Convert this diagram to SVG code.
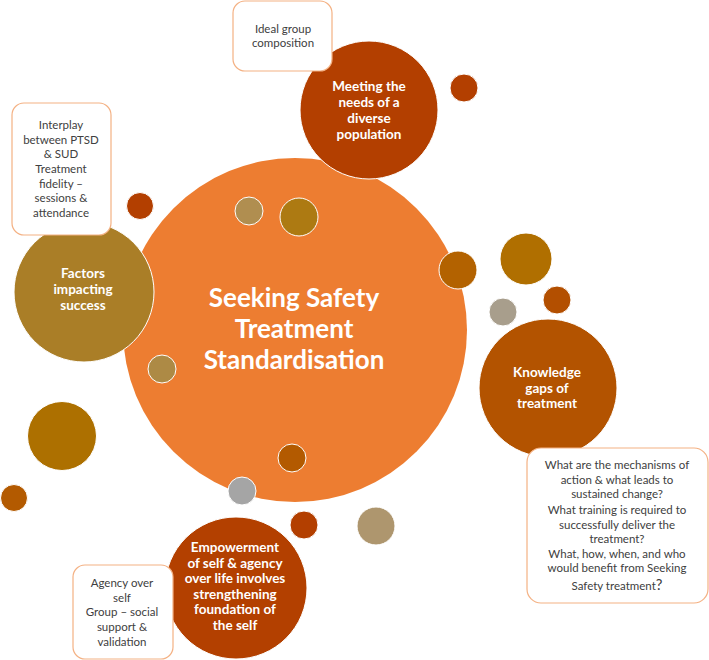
<svg xmlns="http://www.w3.org/2000/svg" width="709" height="660" viewBox="0 0 709 660">
<style>
.big{stroke:#fff;stroke-width:1}
.dot{stroke:#fff;stroke-width:1}
.box{fill:#fff;stroke:#F4B183;stroke-width:1.2}
.ct{font-family:Lato,"Liberation Sans",sans-serif;font-weight:bold;fill:#fff;text-anchor:middle}
.bt{font-family:Lato,"Liberation Sans",sans-serif;fill:#404040;text-anchor:middle;font-size:11.5px}
</style>
<rect width="709" height="660" fill="#fff"/>
<g id="main">
<circle cx="295" cy="330" r="172" fill="#ED7D31"/>
<text class="ct" font-size="26" x="294" y="307">Seeking Safety</text>
<text class="ct" font-size="26" x="294" y="338">Treatment</text>
<text class="ct" font-size="26" x="294" y="369">Standardisation</text>
</g>
<g id="meeting">
<circle class="big" cx="369" cy="110" r="69" fill="#B33F00"/>
<text class="ct" font-size="13.5" x="369" y="91">Meeting the</text>
<text class="ct" font-size="13.5" x="369" y="107">needs of a</text>
<text class="ct" font-size="13.5" x="369" y="123">diverse</text>
<text class="ct" font-size="13.5" x="369" y="139">population</text>
</g>
<g id="factors">
<circle class="big" cx="84" cy="292" r="70" fill="#AA7E27"/>
<text class="ct" font-size="13.5" x="83" y="278">Factors</text>
<text class="ct" font-size="13.5" x="83" y="294">impacting</text>
<text class="ct" font-size="13.5" x="83" y="310">success</text>
</g>
<g id="knowledge">
<circle class="big" cx="548" cy="388" r="69" fill="#B35300"/>
<text class="ct" font-size="13.5" x="547" y="377">Knowledge</text>
<text class="ct" font-size="13.5" x="547" y="393">gaps of</text>
<text class="ct" font-size="13.5" x="547" y="408">treatment</text>
</g>
<g id="empowerment">
<circle class="big" cx="236" cy="588" r="71" fill="#B34000"/>
<text class="ct" font-size="13.5" x="235" y="552">Empowerment</text>
<text class="ct" font-size="13.5" x="235" y="568">of self &amp; agency</text>
<text class="ct" font-size="13.5" x="235" y="583">over life involves</text>
<text class="ct" font-size="13.5" x="235" y="599">strengthening</text>
<text class="ct" font-size="13.5" x="235" y="614">foundation of</text>
<text class="ct" font-size="13.5" x="235" y="630">the self</text>
</g>
<g id="dots">
<circle class="dot" cx="464" cy="88" r="14" fill="#B33F00"/>
<circle class="dot" cx="140" cy="206" r="13.5" fill="#B33F00"/>
<circle class="dot" cx="249" cy="211" r="14" fill="#B08E50"/>
<circle class="dot" cx="299" cy="217" r="19" fill="#AD7A12"/>
<circle class="dot" cx="162" cy="369" r="14" fill="#AD8A45"/>
<circle class="dot" cx="458" cy="270" r="19" fill="#B36200"/>
<circle class="dot" cx="526" cy="259" r="26" fill="#B06F00"/>
<circle class="dot" cx="503" cy="312" r="14" fill="#A89E8C"/>
<circle class="dot" cx="557" cy="300" r="14" fill="#B34F00"/>
<circle class="dot" cx="62" cy="436" r="34.5" fill="#AD7000"/>
<circle class="dot" cx="14" cy="498" r="13.5" fill="#B35A00"/>
<circle class="dot" cx="292" cy="458" r="14" fill="#B35A00"/>
<circle class="dot" cx="242" cy="491" r="14" fill="#A5A5A5"/>
<circle class="dot" cx="304" cy="525" r="14" fill="#B33F00"/>
<circle class="dot" cx="376" cy="526" r="19" fill="#AE966E"/>
</g>
<g id="box-ideal">
<rect class="box" x="233" y="1" width="99" height="70" rx="12"/>
<text class="bt" x="283" y="33">Ideal group</text>
<text class="bt" x="283" y="47">composition</text>
</g>
<g id="box-interplay">
<rect class="box" x="12" y="103" width="99" height="132" rx="12"/>
<text class="bt" x="61" y="129">Interplay</text>
<text class="bt" x="61" y="143.5">between PTSD</text>
<text class="bt" x="61" y="158">&amp; SUD</text>
<text class="bt" x="61" y="173">Treatment</text>
<text class="bt" x="61" y="187.5">fidelity –</text>
<text class="bt" x="61" y="202">sessions &amp;</text>
<text class="bt" x="61" y="217">attendance</text>
</g>
<g id="box-knowledge">
<rect class="box" x="527" y="448" width="181" height="155" rx="14"/>
<text class="bt" x="617" y="469">What are the mechanisms of</text>
<text class="bt" x="617" y="483.5">action &amp; what leads to</text>
<text class="bt" x="617" y="498">sustained change?</text>
<text class="bt" x="617" y="514">What training is required to</text>
<text class="bt" x="617" y="528.5">successfully deliver the</text>
<text class="bt" x="617" y="543">treatment?</text>
<text class="bt" x="617" y="557.5">What, how, when, and who</text>
<text class="bt" x="617" y="572">would benefit from Seeking</text>
<text class="bt" x="617" y="590">Safety treatment<tspan font-size="15">?</tspan></text>
</g>
<g id="box-agency">
<rect class="box" x="73" y="565" width="100" height="94" rx="12"/>
<text class="bt" x="122" y="587">Agency over</text>
<text class="bt" x="122" y="601.5">self</text>
<text class="bt" x="122" y="616">Group – social</text>
<text class="bt" x="122" y="631">support &amp;</text>
<text class="bt" x="122" y="646">validation</text>
</g>
<g id="connectors"/>
</svg>
